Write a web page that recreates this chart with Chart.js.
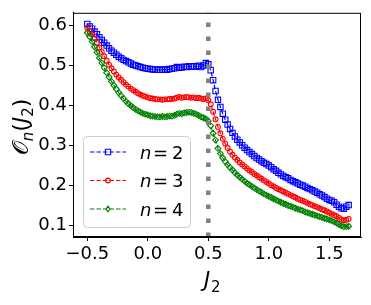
<!DOCTYPE html>
<html>
<head>
<meta charset="utf-8">
<script src="https://cdn.jsdelivr.net/npm/chart.js@4.4.0/dist/chart.umd.min.js"></script>
<style>
  body { margin: 0; background: #fff; }
  #wrap { width: 371px; height: 305px; }
</style>
</head>
<body>
<div id="wrap"><canvas id="orderChart" width="371" height="305"></canvas></div>
<script>
// J2 grid (x values)
const j2Values = [
  -0.50, -0.48, -0.46, -0.44, -0.42, -0.40, -0.38, -0.36, -0.34, -0.32,
  -0.30, -0.28, -0.26, -0.24, -0.22, -0.20, -0.18, -0.16, -0.14, -0.12,
  -0.10, -0.08, -0.06, -0.04, -0.02, 0.00, 0.02, 0.04, 0.06, 0.08,
  0.10, 0.12, 0.14, 0.16, 0.18, 0.20, 0.22, 0.24, 0.26, 0.28,
  0.30, 0.32, 0.34, 0.36, 0.38, 0.40, 0.42, 0.44, 0.46, 0.48,
  0.50, 0.52, 0.54, 0.56, 0.58, 0.60, 0.62, 0.64, 0.66, 0.68,
  0.70, 0.72, 0.74, 0.76, 0.78, 0.80, 0.82, 0.84, 0.86, 0.88,
  0.90, 0.92, 0.94, 0.96, 0.98, 1.00, 1.02, 1.04, 1.06, 1.08,
  1.10, 1.12, 1.14, 1.16, 1.18, 1.20, 1.22, 1.24, 1.26, 1.28,
  1.30, 1.32, 1.34, 1.36, 1.38, 1.40, 1.42, 1.44, 1.46, 1.48,
  1.50, 1.52, 1.54, 1.56, 1.58, 1.60, 1.62, 1.64, 1.66
];

// O_n(J2) for n = 2
const n2Values = [
  0.604, 0.598, 0.592, 0.585, 0.578, 0.571, 0.564, 0.557, 0.550, 0.543,
  0.537, 0.532, 0.527, 0.522, 0.518, 0.514, 0.511, 0.508, 0.505, 0.502,
  0.500, 0.498, 0.496, 0.494, 0.493, 0.492, 0.491, 0.490, 0.490, 0.489,
  0.489, 0.489, 0.490, 0.489, 0.491, 0.492, 0.493, 0.496, 0.494, 0.495,
  0.497, 0.496, 0.498, 0.497, 0.498, 0.497, 0.499, 0.496, 0.500, 0.506,
  0.503, 0.488, 0.463, 0.436, 0.414, 0.396, 0.379, 0.364, 0.352, 0.341,
  0.331, 0.322, 0.314, 0.307, 0.300, 0.294, 0.288, 0.283, 0.278, 0.273,
  0.268, 0.264, 0.260, 0.256, 0.253, 0.249, 0.245, 0.240, 0.236, 0.231,
  0.227, 0.223, 0.220, 0.217, 0.213, 0.210, 0.207, 0.204, 0.201, 0.199,
  0.196, 0.193, 0.190, 0.187, 0.184, 0.181, 0.177, 0.174, 0.170, 0.166,
  0.163, 0.161, 0.157, 0.151, 0.146, 0.142, 0.141, 0.146, 0.150
];

// n = 3
const n3Values = [
  0.594, 0.586, 0.578, 0.568, 0.557, 0.545, 0.534, 0.523, 0.512, 0.502,
  0.493, 0.485, 0.477, 0.470, 0.464, 0.458, 0.452, 0.447, 0.442, 0.438,
  0.434, 0.430, 0.427, 0.424, 0.422, 0.420, 0.418, 0.417, 0.416, 0.415,
  0.415, 0.414, 0.415, 0.415, 0.416, 0.416, 0.417, 0.419, 0.421, 0.419,
  0.420, 0.421, 0.420, 0.419, 0.420, 0.418, 0.419, 0.417, 0.416, 0.417,
  0.413, 0.403, 0.384, 0.365, 0.346, 0.330, 0.316, 0.304, 0.293, 0.284,
  0.276, 0.269, 0.263, 0.257, 0.252, 0.247, 0.242, 0.237, 0.233, 0.228,
  0.224, 0.220, 0.216, 0.212, 0.208, 0.204, 0.200, 0.197, 0.193, 0.190,
  0.187, 0.184, 0.181, 0.178, 0.175, 0.172, 0.169, 0.166, 0.163, 0.161,
  0.158, 0.155, 0.152, 0.150, 0.147, 0.145, 0.142, 0.139, 0.137, 0.134,
  0.131, 0.128, 0.125, 0.122, 0.118, 0.114, 0.112, 0.113, 0.115
];

// n = 4
const n4Values = [
  0.582, 0.572, 0.560, 0.547, 0.533, 0.519, 0.506, 0.494, 0.482, 0.471,
  0.460, 0.450, 0.441, 0.432, 0.424, 0.417, 0.410, 0.404, 0.399, 0.394,
  0.390, 0.386, 0.383, 0.380, 0.378, 0.376, 0.374, 0.373, 0.372, 0.371,
  0.371, 0.372, 0.371, 0.372, 0.373, 0.373, 0.375, 0.378, 0.380, 0.379,
  0.381, 0.382, 0.383, 0.382, 0.380, 0.378, 0.375, 0.371, 0.369, 0.366,
  0.361, 0.349, 0.330, 0.313, 0.292, 0.279, 0.268, 0.259, 0.251, 0.244,
  0.238, 0.231, 0.225, 0.220, 0.215, 0.210, 0.205, 0.201, 0.197, 0.193,
  0.189, 0.185, 0.182, 0.178, 0.175, 0.172, 0.169, 0.166, 0.163, 0.160,
  0.157, 0.154, 0.152, 0.149, 0.147, 0.145, 0.142, 0.140, 0.138, 0.136,
  0.133, 0.131, 0.129, 0.127, 0.125, 0.123, 0.121, 0.119, 0.117, 0.115,
  0.113, 0.111, 0.108, 0.105, 0.101, 0.098, 0.096, 0.096, 0.097
];

const seriesN = ["2", "3", "4"];
const xTicks = [-0.5, 0.0, 0.5, 1.0, 1.5];
const xTickLabels = ["\u22120.5", "0.0", "0.5", "1.0", "1.5"];
const yTicks = [0.1, 0.2, 0.3, 0.4, 0.5, 0.6];
const yTickLabels = ["0.1", "0.2", "0.3", "0.4", "0.5", "0.6"];
const criticalJ2 = 0.5;

const colors = ["#0000ff", "#ff0000", "#008000"];
const markers = ["rect", "circle", "rectRot"];
const markerSize = [3.8, 2.4, 2.9];

function toPoints(vals) {
  return j2Values.map((x, i) => ({ x: x, y: vals[i] }));
}

const allSeries = [n2Values, n3Values, n4Values];
const datasets = allSeries.map((vals, k) => ({
  label: "n = " + seriesN[k],
  data: toPoints(vals),
  borderColor: colors[k],
  backgroundColor: "rgba(0,0,0,0)",
  borderWidth: 1.2,
  borderDash: [4.5, 2],
  pointStyle: markers[k],
  pointRadius: markerSize[k],
  pointBorderColor: colors[k],
  pointBackgroundColor: "rgba(0,0,0,0)",
  pointBorderWidth: 1.1,
  order: 3 - k
}));

// draw a marker by hand (used in the legend)
function drawMarker(ctx, style, r, x, y) {
  ctx.beginPath();
  if (style === "rect") {
    const s = r * Math.SQRT1_2;
    ctx.rect(x - s, y - s, 2 * s, 2 * s);
  } else if (style === "circle") {
    ctx.arc(x, y, r, 0, Math.PI * 2);
  } else {
    ctx.moveTo(x, y - r); ctx.lineTo(x + r * 0.7, y);
    ctx.lineTo(x, y + r); ctx.lineTo(x - r * 0.7, y);
    ctx.closePath();
  }
  ctx.stroke();
}

const extras = {
  id: "extras",
  afterDatasetsDraw(chart) {
    const { ctx, chartArea: a, scales } = chart;
    // dotted vertical line at J2 = 0.5
    const px = scales.x.getPixelForValue(criticalJ2);
    ctx.save();
    ctx.strokeStyle = "#808080";
    ctx.lineWidth = 4.5;
    ctx.setLineDash([4.5, 9.5]);
    ctx.beginPath();
    ctx.moveTo(px, a.bottom);
    ctx.lineTo(px, a.top);
    ctx.stroke();
    ctx.restore();
  },
  afterDraw(chart) {
    const { ctx, chartArea: a } = chart;
    ctx.save();
    // axes frame
    ctx.strokeStyle = "#000";
    ctx.lineWidth = 1;
    ctx.strokeRect(a.left + 0.5, a.top + 0.5, a.right - a.left - 1, a.bottom - a.top - 1);

    // legend box
    const bx = 83.5, by = 136.5, bw = 107, bh = 91, rad = 4;
    ctx.fillStyle = "rgba(255,255,255,0.8)";
    ctx.strokeStyle = "#cccccc";
    ctx.beginPath();
    ctx.roundRect(bx, by, bw, bh, rad);
    ctx.fill();
    ctx.stroke();

    const rowsY = [152, 180.5, 209];
    for (let k = 0; k < 3; k++) {
      const y = rowsY[k];
      ctx.strokeStyle = colors[k];
      ctx.lineWidth = 1.2;
      ctx.setLineDash([4.5, 2]);
      ctx.beginPath();
      ctx.moveTo(90, y);
      ctx.lineTo(126, y);
      ctx.stroke();
      ctx.setLineDash([]);
      ctx.lineWidth = 1.1;
      drawMarker(ctx, markers[k], markerSize[k], 108, y);

      ctx.fillStyle = "#000";
      ctx.textBaseline = "alphabetic";
      ctx.textAlign = "left";
      ctx.font = "italic 18px 'DejaVu Sans'";
      ctx.fillText("n", 140, y + 6.5);
      ctx.font = "18px 'DejaVu Sans'";
      ctx.fillText("=", 153, y + 6.5);
      ctx.fillText(seriesN[k], 172, y + 6.5);
    }

    // x axis label J_2
    ctx.fillStyle = "#000";
    ctx.font = "italic 21px 'DejaVu Sans'";
    ctx.fillText("J", 204, 287);
    ctx.font = "15px 'DejaVu Sans'";
    ctx.fillText("2", 211, 292);

    // y axis label O_n(J_2), rotated
    ctx.translate(28, 127);
    ctx.rotate(-Math.PI / 2);
    const parts = [
      ["\uD835\uDCAA", "22px 'DejaVu Sans'", 0],
      ["n", "italic 15px 'DejaVu Sans'", 5],
      ["(", "22px 'DejaVu Sans'", 0],
      ["J", "italic 22px 'DejaVu Sans'", 0],
      ["2", "15px 'DejaVu Sans'", 5],
      [")", "22px 'DejaVu Sans'", 0]
    ];
    let total = 0;
    parts.forEach(p => { ctx.font = p[1]; total += ctx.measureText(p[0]).width; });
    let cx = -total / 2;
    parts.forEach(p => {
      ctx.font = p[1];
      ctx.fillText(p[0], cx, p[2]);
      cx += ctx.measureText(p[0]).width;
    });
    ctx.restore();
  }
};

const tickFont = { family: "'DejaVu Sans'", size: 18 };

new Chart(document.getElementById("orderChart"), {
  type: "line",
  data: { datasets: datasets },
  options: {
    responsive: false,
    animation: false,
    devicePixelRatio: 1,
    layout: { padding: { top: 8, right: 10, left: 0, bottom: 0 } },
    plugins: { legend: { display: false }, tooltip: { enabled: false } },
    scales: {
      x: {
        type: "linear",
        min: -0.618,
        max: 1.762,
        afterBuildTicks: s => { s.ticks = xTicks.map(v => ({ value: v })); },
        afterFit: s => { s.height = 68; },
        ticks: {
          callback: (v, i) => xTickLabels[i],
          font: tickFont,
          color: "#000",
          padding: 3,
          maxRotation: 0,
          autoSkip: false
        },
        grid: { drawOnChartArea: false, drawTicks: true, tickLength: 4, color: "#000" },
        border: { display: true, color: "#000", width: 1 }
      },
      y: {
        type: "linear",
        min: 0.07,
        max: 0.632,
        afterBuildTicks: s => { s.ticks = yTicks.map(v => ({ value: v })); },
        afterFit: s => { s.width = 73; },
        ticks: {
          callback: (v, i) => yTickLabels[i],
          font: tickFont,
          color: "#000",
          padding: 2,
          autoSkip: false
        },
        grid: { drawOnChartArea: false, drawTicks: true, tickLength: 4, color: "#000" },
        border: { display: true, color: "#000", width: 1 }
      }
    }
  },
  plugins: [extras]
});
</script>
</body>
</html>
